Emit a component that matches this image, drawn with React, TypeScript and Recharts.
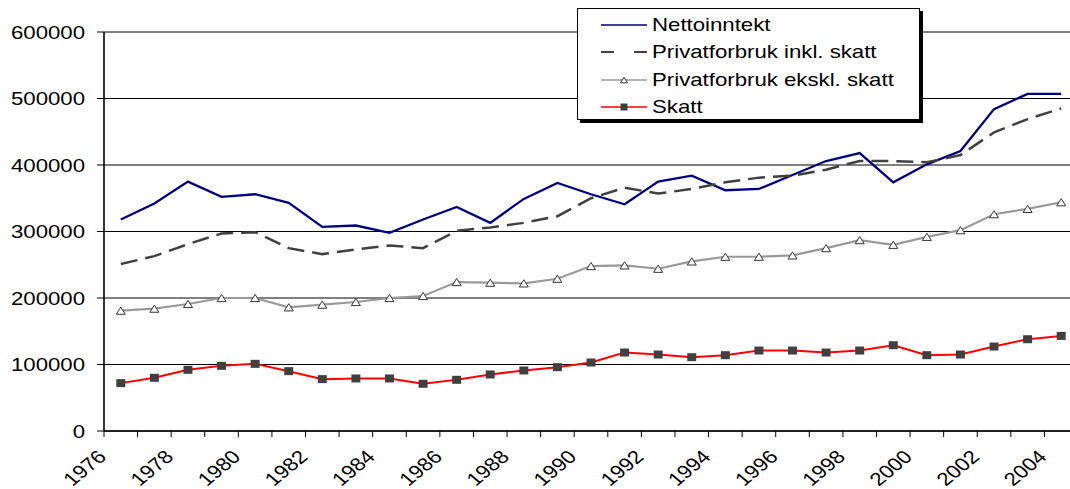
import React from 'react';
import { LineChart, Line, XAxis, YAxis, CartesianGrid, Legend } from 'recharts';

const years = [1976, 1977, 1978, 1979, 1980, 1981, 1982, 1983, 1984, 1985, 1986, 1987, 1988, 1989, 1990, 1991, 1992, 1993, 1994, 1995, 1996, 1997, 1998, 1999, 2000, 2001, 2002, 2003, 2004];
const nettoinntekt = [318000, 342000, 375000, 352000, 356000, 343000, 307000, 309000, 298000, 318000, 337000, 313000, 349000, 373000, 356000, 341000, 375000, 384000, 362000, 364000, 385000, 406000, 418000, 374000, 401000, 421000, 484000, 507000, 507000];
const privInkl = [251000, 263000, 281000, 297000, 299000, 275000, 266000, 273000, 279000, 275000, 301000, 306000, 313000, 323000, 350000, 366000, 357000, 364000, 374000, 381000, 384000, 393000, 406000, 406000, 404000, 415000, 449000, 469000, 485000];
const privEkskl = [181000, 184000, 191000, 200000, 200000, 186000, 190000, 194000, 200000, 203000, 224000, 223000, 222000, 229000, 248000, 249000, 244000, 255000, 262000, 262000, 264000, 275000, 287000, 280000, 292000, 302000, 326000, 334000, 344000];
const skatt = [72000, 80000, 92000, 98000, 101000, 90000, 78000, 79000, 79000, 71000, 77000, 85000, 91000, 96000, 103000, 118000, 115000, 111000, 114000, 121000, 121000, 118000, 121000, 129000, 114000, 115000, 127000, 138000, 143000];

const seriesNames = ['Nettoinntekt', 'Privatforbruk inkl. skatt', 'Privatforbruk ekskl. skatt', 'Skatt'];
const xTickLabels = ['1976', '1978', '1980', '1982', '1984', '1986', '1988', '1990', '1992', '1994', '1996', '1998', '2000', '2002', '2004'];
const yTicks = [0, 100000, 200000, 300000, 400000, 500000, 600000];

const data = years.map((year, i) => ({
  year,
  netto: nettoinntekt[i],
  inkl: privInkl[i],
  ekskl: privEkskl[i],
  skatt: skatt[i],
}));

const xTicks = [...years.map((y) => y - 0.5), years[years.length - 1] + 0.5];

const FONT = '"Liberation Sans", Arial, sans-serif';

const TriangleDot = (props: any) => {
  const { cx, cy, size = 9 } = props;
  if (cx == null || cy == null) return null;
  const h = size * 0.8;
  return (
    <polygon
      points={`${cx - size / 2},${cy + h / 2} ${cx + size / 2},${cy + h / 2} ${cx},${cy - h / 2}`}
      fill="#ffffff"
      stroke="#333333"
      strokeWidth={1}
    />
  );
};

const SquareDot = (props: any) => {
  const { cx, cy, w = 9, h = 8 } = props;
  if (cx == null || cy == null) return null;
  return <rect x={cx - w / 2} y={cy - h / 2} width={w} height={h} fill="#404040" />;
};

const XTick = (props: any) => {
  const { x, y, payload } = props;
  const label = xTickLabels.find((l) => Number(l) - 0.5 === payload.value);
  if (!label) return null;
  return (
    <text
      transform={`translate(${x + 3.5},${y + 19}) scale(1.2,1) rotate(-45)`}
      textAnchor="end"
      fontSize={18.5}
      fontFamily={FONT}
      fill="#000"
    >
      {label}
    </text>
  );
};

const YTick = (props: any) => {
  const { x, y, payload } = props;
  return (
    <text
      transform={`translate(${x},${y}) scale(1.2,1)`}
      textAnchor="end"
      dy="0.36em"
      fontSize={18.5}
      fontFamily={FONT}
      fill="#000"
    >
      {payload.value}
    </text>
  );
};

const legendIcon = (idx: number) => {
  const w = 46;
  const mid = 23;
  if (idx === 0) return <line x1={0} y1={6} x2={w} y2={6} stroke="#000080" strokeWidth={1.6} />;
  if (idx === 1)
    return <line x1={0} y1={6} x2={w} y2={6} stroke="#404040" strokeWidth={2.2} strokeDasharray="13 20" />;
  if (idx === 2)
    return (
      <g>
        <line x1={0} y1={6} x2={w} y2={6} stroke="#999999" strokeWidth={1.6} />
        <TriangleDot cx={mid} cy={6} size={7} />
      </g>
    );
  return (
    <g>
      <line x1={0} y1={6} x2={w} y2={6} stroke="#ff0000" strokeWidth={1.6} />
      <SquareDot cx={mid} cy={6} w={7} h={7} />
    </g>
  );
};

const renderLegend = () => (
  <div
    style={{
      position: 'relative',
      width: 341,
      height: 110,
      border: '1px solid #000',
      background: '#fff',
      boxShadow: '3px 3px 0 #000',
      fontFamily: FONT,
    }}
  >
    {seriesNames.map((name, i) => {
      const cy = 15.5 + i * 27.6;
      return (
        <div key={name}>
          <svg
            width={46}
            height={12}
            style={{ position: 'absolute', left: 23, top: cy - 6, overflow: 'visible' }}
          >
            {legendIcon(i)}
          </svg>
          <span
            style={{
              position: 'absolute',
              left: 74,
              top: cy - 11,
              height: 22,
              lineHeight: '22px',
              fontSize: 18.5,
              whiteSpace: 'nowrap',
              transform: 'scaleX(1.2)',
              transformOrigin: 'left center',
              color: '#000',
            }}
          >
            {name}
          </span>
        </div>
      );
    })}
  </div>
);

export default function App() {
  return (
    <div
      style={{
        position: 'absolute',
        left: 0,
        top: 0,
        width: 1070,
        height: 489,
        overflow: 'hidden',
        background: '#fff',
        fontFamily: FONT,
      }}
    >
      <LineChart width={1078} height={489} data={data} margin={{ top: 32, right: 0, bottom: 0, left: 0 }}>
        <CartesianGrid horizontal vertical={false} stroke="#000" strokeWidth={1} />
        <XAxis
          dataKey="year"
          type="number"
          domain={[1975.5, 2004.5]}
          ticks={xTicks}
          interval={0}
          height={58}
          tickSize={6}
          tickMargin={2}
          axisLine={{ stroke: '#000', strokeWidth: 1.6 }}
          tickLine={{ stroke: '#000', strokeWidth: 1 }}
          tick={<XTick />}
          allowDataOverflow
        />
        <YAxis
          type="number"
          domain={[0, 600000]}
          ticks={yTicks}
          interval={0}
          width={104}
          tickSize={7}
          tickMargin={12}
          axisLine={{ stroke: '#000', strokeWidth: 1.6 }}
          tickLine={{ stroke: '#000', strokeWidth: 1 }}
          tick={<YTick />}
        />
        <Legend
          layout="vertical"
          align="center"
          verticalAlign="middle"
          content={renderLegend}
          wrapperStyle={{ left: 577, top: 8, width: 345, height: 114 }}
        />
        <Line
          type="linear"
          dataKey="netto"
          name={seriesNames[0]}
          stroke="#000080"
          strokeWidth={2.3}
          dot={false}
          activeDot={false}
          isAnimationActive={false}
        />
        <Line
          type="linear"
          dataKey="inkl"
          name={seriesNames[1]}
          stroke="#404040"
          strokeWidth={2.5}
          strokeDasharray="17 8"
          dot={false}
          activeDot={false}
          isAnimationActive={false}
        />
        <Line
          type="linear"
          dataKey="ekskl"
          name={seriesNames[2]}
          stroke="#999999"
          strokeWidth={2.2}
          dot={(p: any) => <TriangleDot key={`t-${p.index}`} cx={p.cx} cy={p.cy} size={9} />}
          activeDot={false}
          isAnimationActive={false}
        />
        <Line
          type="linear"
          dataKey="skatt"
          name={seriesNames[3]}
          stroke="#ff0000"
          strokeWidth={2}
          dot={(p: any) => <SquareDot key={`s-${p.index}`} cx={p.cx} cy={p.cy} w={9} h={8} />}
          activeDot={false}
          isAnimationActive={false}
        />
      </LineChart>
    </div>
  );
}
